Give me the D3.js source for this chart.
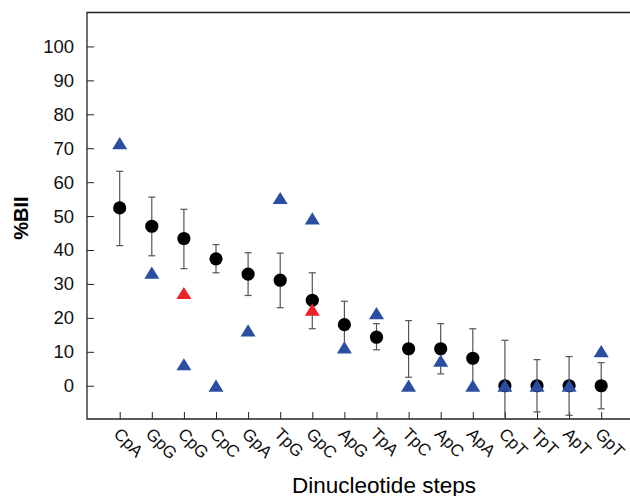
<!DOCTYPE html>
<html>
<head>
<meta charset="utf-8">
<script src="https://d3js.org/d3.v7.min.js"></script>
<style>
  body { margin: 0; background: white; }
  text { font-family: "Liberation Sans", Arial, Helvetica, sans-serif; }
</style>
</head>
<body>
<div id="chart"></div>
<script>
// data
var steps = ["CpA", "GpG", "CpG", "CpC", "GpA", "TpG", "GpC", "ApG",
             "TpA", "TpC", "ApC", "ApA", "CpT", "TpT", "ApT", "GpT"];
var meanValues = [52.4, 47.0, 43.4, 37.4, 32.9, 31.1, 25.2, 18.0,
                  14.3, 10.9, 10.9, 8.1, 0, 0, 0, 0];
var errHigh = [63.2, 55.6, 52.0, 41.6, 39.2, 39.1, 33.3, 24.9,
               18.3, 19.2, 18.3, 16.8, 13.4, 7.7, 8.6, 6.8];
var errLow = [41.3, 38.3, 34.5, 33.3, 26.6, 23.0, 16.8, 11.1,
              10.6, 2.5, 3.5, -0.6, -13.4, -7.7, -8.7, -6.8];
var blueValues = [71.5, 33.3, 6.3, 0, 16.3, 55.3, 49.3, 11.3,
                  21.4, 0, 7.4, 0, 0, 0, 0, 10.2];
var redSteps = ["CpG", "GpC"];
var redValues = [27.3, 22.4];
var yTicks = [0, 10, 20, 30, 40, 50, 60, 70, 80, 90, 100];

var width = 630, height = 496;
var plotLeft = 87, plotRight = 630, plotTop = 12.5, plotBottom = 419;

var svg = d3.select("#chart").append("svg")
  .attr("width", width)
  .attr("height", height);

var y = d3.scaleLinear().domain([-9.8, 110]).range([plotBottom, plotTop]);
var x = d3.scalePoint().domain(steps).range([119.7, 601.2]);

// frame: left, top, bottom
svg.append("path")
  .attr("d", "M" + plotRight + "," + plotTop + "H" + plotLeft + "V" + plotBottom + "H" + plotRight)
  .style("fill", "none")
  .style("stroke", "#222")
  .style("stroke-width", 1.3);

// y axis ticks (inside)
var yAxis = d3.axisLeft(y).tickValues(yTicks).tickSizeInner(-7).tickSizeOuter(0).tickPadding(13);
var gy = svg.append("g").attr("transform", "translate(" + plotLeft + ",0)").call(yAxis);
gy.select(".domain").remove();
gy.selectAll("text").style("font-size", "18.5px").attr("fill", "#111");
gy.selectAll("line").attr("stroke", "#222");

// x axis ticks (inside) with rotated labels
var xAxis = d3.axisBottom(x).tickSizeInner(-7).tickSizeOuter(0).tickFormat("");
var gx = svg.append("g").attr("transform", "translate(0," + plotBottom + ")").call(xAxis);
gx.select(".domain").remove();
gx.selectAll("line").attr("stroke", "#222");

svg.selectAll(".xlab")
  .data(steps)
  .enter().append("text")
  .attr("class", "xlab")
  .attr("transform", function(d) { return "translate(" + (x(d) - 7) + "," + (plotBottom + 16) + ") rotate(45)"; })
  .style("font-size", "17px")
  .attr("fill", "#111")
  .text(function(d) { return d; });

// axis titles
svg.append("text")
  .attr("transform", "translate(28,218) rotate(-90)")
  .attr("text-anchor", "middle")
  .style("font-size", "20px")
  .style("font-weight", "bold")
  .text("%BII");

svg.append("text")
  .attr("x", 384)
  .attr("y", 493)
  .attr("text-anchor", "middle")
  .style("font-size", "22.5px")
  .text("Dinucleotide steps");

var plot = svg.append("g");

// error bars
steps.forEach(function(s, i) {
  var lo = Math.max(errLow[i], y.invert(plotBottom));
  var cx = x(s);
  plot.append("line")
    .attr("x1", cx).attr("x2", cx)
    .attr("y1", y(errHigh[i])).attr("y2", y(lo))
    .attr("stroke", "#555").attr("stroke-width", 1.2);
  plot.append("line")
    .attr("x1", cx - 3.5).attr("x2", cx + 3.5)
    .attr("y1", y(errHigh[i])).attr("y2", y(errHigh[i]))
    .attr("stroke", "#555").attr("stroke-width", 1.2);
  if (errLow[i] > y.invert(plotBottom)) {
    plot.append("line")
      .attr("x1", cx - 3.5).attr("x2", cx + 3.5)
      .attr("y1", y(lo)).attr("y2", y(lo))
      .attr("stroke", "#555").attr("stroke-width", 1.2);
  }
});

// mean circles
plot.selectAll(".mean")
  .data(steps)
  .enter().append("circle")
  .attr("cx", function(d) { return x(d); })
  .attr("cy", function(d, i) { return y(meanValues[i]); })
  .attr("r", 6.6)
  .attr("fill", "black");

var triangle = "M0,-6.2L7.5,6L-7.5,6Z";

plot.selectAll(".blue")
  .data(steps)
  .enter().append("path")
  .attr("d", triangle)
  .attr("transform", function(d, i) { return "translate(" + x(d) + "," + y(blueValues[i]) + ")"; })
  .attr("fill", "#2b4ea3");

plot.selectAll(".red")
  .data(redSteps)
  .enter().append("path")
  .attr("d", triangle)
  .attr("transform", function(d, i) { return "translate(" + x(d) + "," + y(redValues[i]) + ")"; })
  .attr("fill", "#e8232a");
</script>
</body>
</html>
